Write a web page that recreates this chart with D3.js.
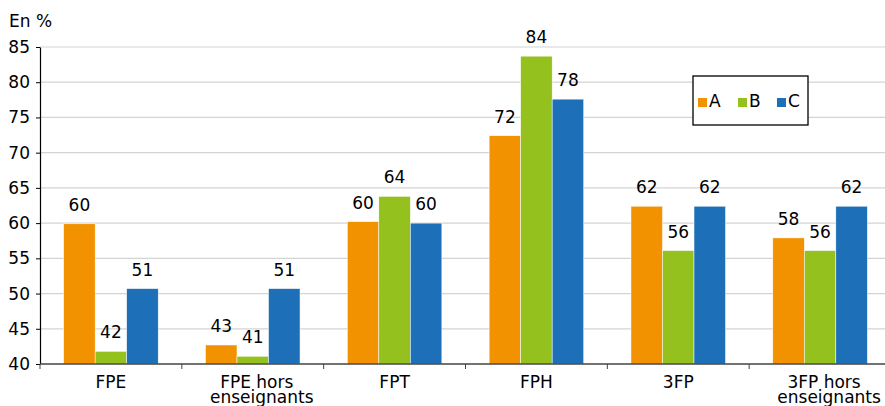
<!DOCTYPE html>
<html>
<head>
<meta charset="utf-8">
<script src="https://cdn.jsdelivr.net/npm/d3@7"></script>
<style>
  body { margin: 0; background: #fff; }
  text { font-family: "DejaVu Sans", sans-serif; fill: #000; }
</style>
</head>
<body>
<svg id="chart" width="885" height="406"></svg>
<script>
// data
const categories = [["FPE"], ["FPE hors", "enseignants"], ["FPT"], ["FPH"], ["3FP"], ["3FP hors", "enseignants"]];
const seriesNames = ["A", "B", "C"];
const valuesA = [59.9, 42.7, 60.2, 72.4, 62.4, 57.9];
const valuesB = [41.8, 41.1, 63.8, 83.7, 56.1, 56.1];
const valuesC = [50.7, 50.7, 60.0, 77.6, 62.4, 62.4];
const yTicks = [40, 45, 50, 55, 60, 65, 70, 75, 80, 85];
const colors = ["#F39200", "#95C11F", "#1D70B7"];

const series = [valuesA, valuesB, valuesC];
const svg = d3.select("#chart");
const fs = "17px";

const x = d3.scaleBand().domain(d3.range(categories.length)).range([40, 891]).paddingInner(0).paddingOuter(0);
const xInner = d3.scaleBand().domain(d3.range(3)).range([0, x.bandwidth()]).paddingOuter(0.75).paddingInner(0);
const y = d3.scaleLinear().domain([40, 85]).range([364, 47]);

// grid
svg.append("g").selectAll("line").data(yTicks.slice(1)).enter().append("line")
  .attr("x1", 40).attr("x2", 885)
  .attr("y1", d => y(d)).attr("y2", d => y(d))
  .attr("stroke", "#d4d4d4").attr("stroke-width", 1.2);

// bars
const groups = svg.append("g").selectAll("g").data(categories).enter().append("g")
  .attr("transform", (d, i) => "translate(" + x(i) + ",0)");

groups.each(function(cat, i) {
  const g = d3.select(this);
  series.forEach((vals, s) => {
    g.append("rect")
      .attr("x", xInner(s))
      .attr("width", xInner.bandwidth())
      .attr("y", y(vals[i]))
      .attr("height", y(40) - y(vals[i]))
      .attr("fill", colors[s])
      .attr("stroke", "#fff").attr("stroke-width", 0.5);
    g.append("text")
      .attr("x", xInner(s) + xInner.bandwidth() / 2)
      .attr("y", y(vals[i]) - 13)
      .attr("text-anchor", "middle")
      .attr("font-size", fs)
      .text(Math.round(vals[i]));
  });
});

// y axis
const yAxis = svg.append("g").attr("transform", "translate(40,0)")
  .call(d3.axisLeft(y).tickValues(yTicks).tickSize(4).tickSizeOuter(0).tickPadding(6));
yAxis.select(".domain").attr("stroke", "#000").attr("stroke-width", 1.2);
yAxis.selectAll(".tick line").attr("stroke", "#000");
yAxis.selectAll(".tick text").attr("font-size", fs).attr("font-family", "DejaVu Sans, sans-serif").attr("fill", "#000");

// x axis
const xAxis = svg.append("g").attr("transform", "translate(0,364)");
xAxis.append("line").attr("x1", 40).attr("x2", 885).attr("y1", 0).attr("y2", 0)
  .attr("stroke", "#444").attr("stroke-width", 1.5);
xAxis.selectAll("line.tk").data(d3.range(categories.length)).enter().append("line")
  .attr("class", "tk")
  .attr("x1", d => x(d)).attr("x2", d => x(d)).attr("y1", 0).attr("y2", 5)
  .attr("stroke", "#444");
// two-line labels sit slightly right of the band centre in the original
xAxis.selectAll("text").data(categories).enter().append("text")
  .attr("text-anchor", "middle")
  .attr("font-size", fs)
  .attr("y", 24)
  .each(function(d, i) {
    const cx = x(i) + x.bandwidth() / 2;
    d3.select(this).selectAll("tspan").data(d).enter().append("tspan")
      .attr("x", (t, j) => d.length > 1 ? cx + (j === 0 ? 4 : 9) : cx)
      .attr("dy", (t, j) => j === 0 ? 0 : 15)
      .text(t => t);
  });

// title
svg.append("text").attr("x", 9).attr("y", 27).attr("font-size", fs).text("En %");

// legend
const lg = svg.append("g").attr("transform", "translate(693,76)");
lg.append("rect").attr("width", 115).attr("height", 49).attr("fill", "#fff")
  .attr("stroke", "#000").attr("stroke-width", 1.3);
const legX = [5, 45, 84];
seriesNames.forEach((n, s) => {
  lg.append("rect").attr("x", legX[s]).attr("y", 22).attr("width", 9).attr("height", 9).attr("fill", colors[s]);
  lg.append("text").attr("x", legX[s] + 11).attr("y", 31).attr("font-size", fs).text(n);
});
</script>
</body>
</html>
